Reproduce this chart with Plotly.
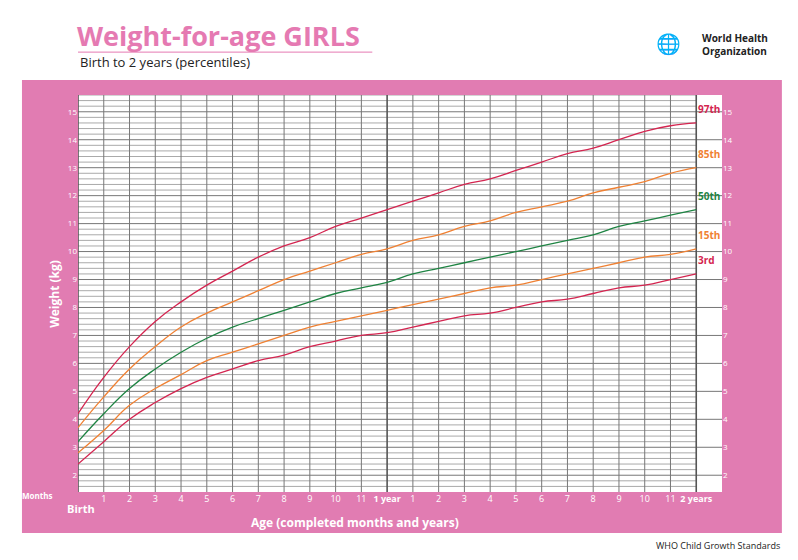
import plotly.graph_objects as go

months = list(range(0, 25))
p3 = [2.4, 3.2, 4.0, 4.6, 5.1, 5.5, 5.8, 6.1, 6.3, 6.6, 6.8, 7.0, 7.1, 7.3, 7.5, 7.7, 7.8, 8.0, 8.2, 8.3, 8.5, 8.7, 8.8, 9.0, 9.2]
p15 = [2.8, 3.6, 4.5, 5.1, 5.6, 6.1, 6.4, 6.7, 7.0, 7.3, 7.5, 7.7, 7.9, 8.1, 8.3, 8.5, 8.7, 8.8, 9.0, 9.2, 9.4, 9.6, 9.8, 9.9, 10.1]
p50 = [3.2, 4.2, 5.1, 5.8, 6.4, 6.9, 7.3, 7.6, 7.9, 8.2, 8.5, 8.7, 8.9, 9.2, 9.4, 9.6, 9.8, 10.0, 10.2, 10.4, 10.6, 10.9, 11.1, 11.3, 11.5]
p85 = [3.7, 4.8, 5.8, 6.6, 7.3, 7.8, 8.2, 8.6, 9.0, 9.3, 9.6, 9.9, 10.1, 10.4, 10.6, 10.9, 11.1, 11.4, 11.6, 11.8, 12.1, 12.3, 12.5, 12.8, 13.0]
p97 = [4.2, 5.5, 6.6, 7.5, 8.2, 8.8, 9.3, 9.8, 10.2, 10.5, 10.9, 11.2, 11.5, 11.8, 12.1, 12.4, 12.6, 12.9, 13.2, 13.5, 13.7, 14.0, 14.3, 14.5, 14.6]
weight_ticks = list(range(2, 16))
month_ticks = list(range(1, 25))
month_text = [str(m) for m in range(1, 12)] + ["<b>1 year</b>"] + [str(m) for m in range(1, 12)] + ["<b>2 years</b>"]

PINK = "#E17CB2"
RED = "#D42550"
ORANGE = "#F08133"
GREEN = "#1E8443"
FONT = "Open Sans"

series = [("97th", p97, RED), ("85th", p85, ORANGE), ("50th", p50, GREEN),
          ("15th", p15, ORANGE), ("3rd", p3, RED)]

fig = go.Figure()
for name, vals, col in series:
    fig.add_trace(go.Scatter(x=months, y=vals, mode="lines", name=name,
                             line=dict(color=col, width=1.3, shape="spline", smoothing=1.3),
                             showlegend=False))
    fig.add_annotation(x=24.0, y=vals[-1] + 0.5, text="<b>%s</b>" % name, showarrow=False,
                       xanchor="left", font=dict(color=col, size=10, family=FONT))

YMIN, YMAX = 1.4, 15.6
shapes = [dict(type="rect", xref="paper", yref="paper", x0=-0.087, x1=1.093, y0=-0.103, y1=1.038,
               fillcolor=PINK, line=dict(width=0), layer="below")]
shapes.append(dict(type="rect", x0=0, x1=25, y0=YMIN, y1=YMAX, fillcolor="white",
                   line=dict(width=0), layer="below"))
for i in range(8, 79):
    w = i / 5
    major = i % 5 == 0
    shapes.append(dict(type="line", x0=0, x1=25 if major else 24, y0=w, y1=w, layer="below",
                       line=dict(color="#777" if major else "#aaa", width=1)))
for m in range(0, 25):
    shapes.append(dict(type="line", x0=m, x1=m, y0=YMIN, y1=YMAX, layer="below",
                       line=dict(color="#555" if m % 12 == 0 else "#777",
                                 width=1.6 if m % 12 == 0 else 1)))
fig.update_layout(shapes=shapes)

ann = [
    dict(x=-0.09, y=-0.01, text="<b>Months</b>", xanchor="left", font=dict(size=8, color="white")),
    dict(x=-0.02, y=-0.042, text="<b>Birth</b>", xanchor="left", font=dict(size=11, color="white")),
    dict(x=0.43, y=-0.077, text="<b>Age (completed months and years)</b>", font=dict(size=12, color="white")),
    dict(x=-0.053, y=0.5, text="<b>Weight (kg)</b>", textangle=-90, font=dict(size=12, color="white")),
    dict(x=-0.005, y=1.151, text="<b>Weight-for-age GIRLS</b>", xanchor="left",
         font=dict(size=27, color="#E57AB2")),
    dict(x=0.0, y=1.083, text="Birth to 2 years (percentiles)", xanchor="left",
         font=dict(size=13, color="#222")),
    dict(x=1.075, y=1.126, text="<b>World Health<br>Organization</b>", xanchor="right", align="left",
         font=dict(size=10, color="#222")),
    dict(x=0.94, y=1.13, text="🌐", xanchor="right", font=dict(size=20, color="#222")),
    dict(x=1.093, y=-0.136, text="WHO Child Growth Standards", xanchor="right",
         font=dict(size=9, color="#222")),
]
for a in ann:
    a.update(showarrow=False, xref="paper", yref="paper", yanchor="middle")
    a["font"]["family"] = FONT
    fig.add_annotation(**a)
fig.add_shape(type="line", xref="paper", yref="paper", x0=0, x1=0.457, y0=1.108, y1=1.108,
              line=dict(color="#E57AB2", width=1))

fig.add_trace(go.Scatter(x=[0], y=[5], yaxis="y2", mode="markers", marker=dict(opacity=0),
                         showlegend=False, hoverinfo="skip"))

tickfont = dict(size=8, color="white", family=FONT)
fig.update_layout(
    width=782, height=544,
    margin=dict(l=70, r=68, t=87, b=60, autoexpand=False),
    paper_bgcolor="white", plot_bgcolor="white",
    xaxis=dict(range=[0, 25], tickvals=month_ticks, ticktext=month_text, showgrid=False,
               zeroline=False, tickfont=dict(size=9, color="white", family=FONT), ticklen=0,
               automargin=False),
    yaxis=dict(range=[YMIN, YMAX], tickvals=weight_ticks, showgrid=False, zeroline=False,
               tickfont=tickfont, ticklen=0, automargin=False),
    yaxis2=dict(range=[YMIN, YMAX], tickvals=weight_ticks, overlaying="y", side="right",
                showgrid=False, zeroline=False, tickfont=tickfont, ticklen=0, automargin=False),
)
fig.write_html("out.html")
